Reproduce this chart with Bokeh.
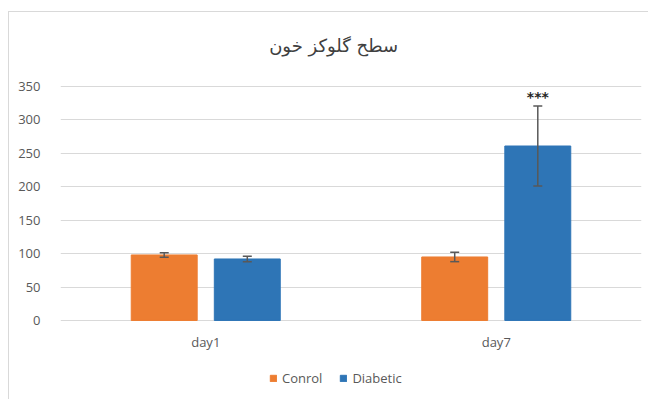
from bokeh.plotting import figure
from bokeh.models import (ColumnDataSource, FactorRange, Whisker, Legend, LegendItem,
                          Label, Range1d, TeeHead)
from bokeh.transform import dodge
from bokeh.core.properties import value
from bokeh.embed import file_html
from bokeh.resources import INLINE

days = ["day1", "day7"]
control = [98, 95]
control_err = [3.5, 7]
diabetic = [92, 261]
diabetic_err = [4, 60]
sig_marks = ["", "***"]
series_names = ["Conrol", "Diabetic"]
y_ticks = [0, 50, 100, 150, 200, 250, 300, 350]
title_text = "سطح گلوکز خون"

ORANGE = "#ED7D31"
BLUE = "#2E75B6"
GREY = "#595959"

src_c = ColumnDataSource(dict(
    day=days, val=control,
    upper=[v + e for v, e in zip(control, control_err)],
    lower=[v - e for v, e in zip(control, control_err)],
))
src_d = ColumnDataSource(dict(
    day=days, val=diabetic,
    upper=[v + e for v, e in zip(diabetic, diabetic_err)],
    lower=[v - e for v, e in zip(diabetic, diabetic_err)],
    sig=sig_marks,
))

# frame covers the whole chart area; axis ticks only 0..350
p = figure(x_range=FactorRange(*days), y_range=Range1d(-119.7, 460.7),
           width=640, height=388, output_backend="svg", toolbar_location=None,
           title=None, min_border=0, min_border_left=51, min_border_right=8,
           min_border_top=0, min_border_bottom=0)
p.styles = {"border-left": "1px solid #d9d9d9", "border-top": "1px solid #d9d9d9",
            "margin-top": "11px", "margin-left": "8px"}
p.outline_line_color = None
p.xgrid.visible = False
p.ygrid.grid_line_color = "#d9d9d9"
p.ygrid.grid_line_width = 1
p.yaxis.ticker = y_ticks
for ax in (p.xaxis[0], p.yaxis[0]):
    ax.axis_line_color = None
    ax.major_tick_line_color = None
    ax.minor_tick_line_color = None
    ax.major_label_text_color = GREY
    ax.major_label_text_font = "Open Sans"
    ax.major_label_text_font_size = "13px"
p.yaxis.major_label_standoff = 14
p.xaxis.major_label_standoff = 7
p.xaxis.fixed_location = 0

off = 0.143
w = 0.227
rc = p.vbar(x=dodge("day", -off, range=p.x_range), top="val", width=w, source=src_c,
            fill_color=ORANGE, line_color=ORANGE)
rd = p.vbar(x=dodge("day", off, range=p.x_range), top="val", width=w, source=src_d,
            fill_color=BLUE, line_color=BLUE)

for src, o in ((src_c, -off), (src_d, off)):
    wk = Whisker(base=dodge("day", o, range=p.x_range), upper="upper", lower="lower",
                 source=src, line_color=GREY, line_width=1.5, level="annotation",
                 upper_head=TeeHead(size=9, line_color=GREY, line_width=1.5),
                 lower_head=TeeHead(size=9, line_color=GREY, line_width=1.5))
    p.add_layout(wk)

p.text(x=dodge("day", off, range=p.x_range), y="upper", text="sig", source=src_d,
       text_align="center", text_baseline="bottom", y_offset=-1,
       text_font_size="14px", text_font_style="bold", text_color="#262626",
       text_font=value("DejaVu Sans"))

p.add_layout(Label(x=0.94, y=411, text=title_text, text_align="center",
                   text_baseline="middle", text_font_size="18px",
                   text_font="DejaVu Sans", text_color="#404040"))

legend = Legend(items=[LegendItem(label=series_names[0], renderers=[rc]),
                       LegendItem(label=series_names[1], renderers=[rd])],
                orientation="horizontal", location=(209, 13), padding=0, margin=0,
                border_line_color=None, background_fill_alpha=0,
                glyph_width=8, glyph_height=8, label_standoff=5, spacing=17,
                label_text_font_size="13px", label_text_color=GREY,
                label_text_font="Open Sans")
p.add_layout(legend)

open("out.html", "w").write(file_html(p, INLINE))
